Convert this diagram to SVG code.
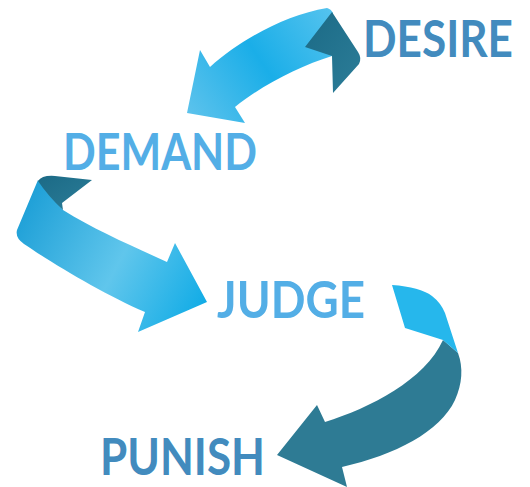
<svg xmlns="http://www.w3.org/2000/svg" width="530" height="487" viewBox="0 0 530 487">
<defs>
<linearGradient id="g1" x1="187" y1="110" x2="333" y2="10" gradientUnits="userSpaceOnUse">
<stop offset="0" stop-color="#5bc2ec"/><stop offset="0.5" stop-color="#1aaee8"/><stop offset="1" stop-color="#55c3ee"/>
</linearGradient>
<linearGradient id="g2" x1="20" y1="200" x2="207" y2="300" gradientUnits="userSpaceOnUse">
<stop offset="0" stop-color="#1b9ed6"/><stop offset="0.55" stop-color="#60c6ec"/><stop offset="1" stop-color="#12ace6"/>
</linearGradient>
<linearGradient id="gd" x1="0" y1="0" x2="1" y2="1">
<stop offset="0" stop-color="#1b6a86"/><stop offset="1" stop-color="#2c7d98"/>
</linearGradient>
<style>
.t{font-family:Lato,"Liberation Sans",sans-serif;font-weight:700;font-size:52px}
.dk{fill:#428bbe}.lt{fill:#53aee6}
</style>
</defs>
<g id="connectors">
<g id="arrow-desire-demand">
<path d="M327,8 Q331,9 333,13 L332,56 C300,66 262,85 235,107 L245,123 L187,113 L200,50 L210,67 C240,40 285,15 327,8 Z" fill="url(#g1)"/>
<path d="M332,12 L358,52 Q362,58 359,64 L333,93 L332,56 L305,47 Z" fill="url(#gd)"/>
</g>
<g id="arrow-demand-judge">
<path d="M38,180 L17,230 Q15,238 24,244 C55,265 105,295 145,312 L138,332 L207,302 L175,243 L167,262 C130,245 95,230 63,210 Z" fill="url(#g2)"/>
<path d="M38,181 Q42,175 55,176 L92,180 L62,203 L63,210 Q48,196 38,181 Z" fill="url(#gd)"/>
</g>
<g id="arrow-judge-punish">
<path d="M443,340 L458,353 Q466,375 455,400 C440,432 395,455 342,467 L347,487 L277,455 L317,405 L325,422 C370,408 425,380 443,340 Z" fill="#2e7b94"/>
<path d="M392,285 Q420,287 432,296 Q441,303 445,313 L458,353 L443,340 L405,328 Z" fill="#26b7ec"/>
</g>
</g>
<g id="desire"><text class="t dk" x="363" y="57" style="font-size:46px" textLength="150" lengthAdjust="spacingAndGlyphs" transform="translate(0,-6.8) scale(1,1.12)">DESIRE</text></g>
<g id="demand"><text class="t lt" x="63" y="170" textLength="194" lengthAdjust="spacingAndGlyphs">DEMAND</text></g>
<g id="judge"><text class="t lt" x="217" y="318" textLength="148" lengthAdjust="spacingAndGlyphs">JUDGE</text></g>
<g id="punish"><text class="t dk" x="100" y="475" textLength="165" lengthAdjust="spacingAndGlyphs">PUNISH</text></g>
</svg>
